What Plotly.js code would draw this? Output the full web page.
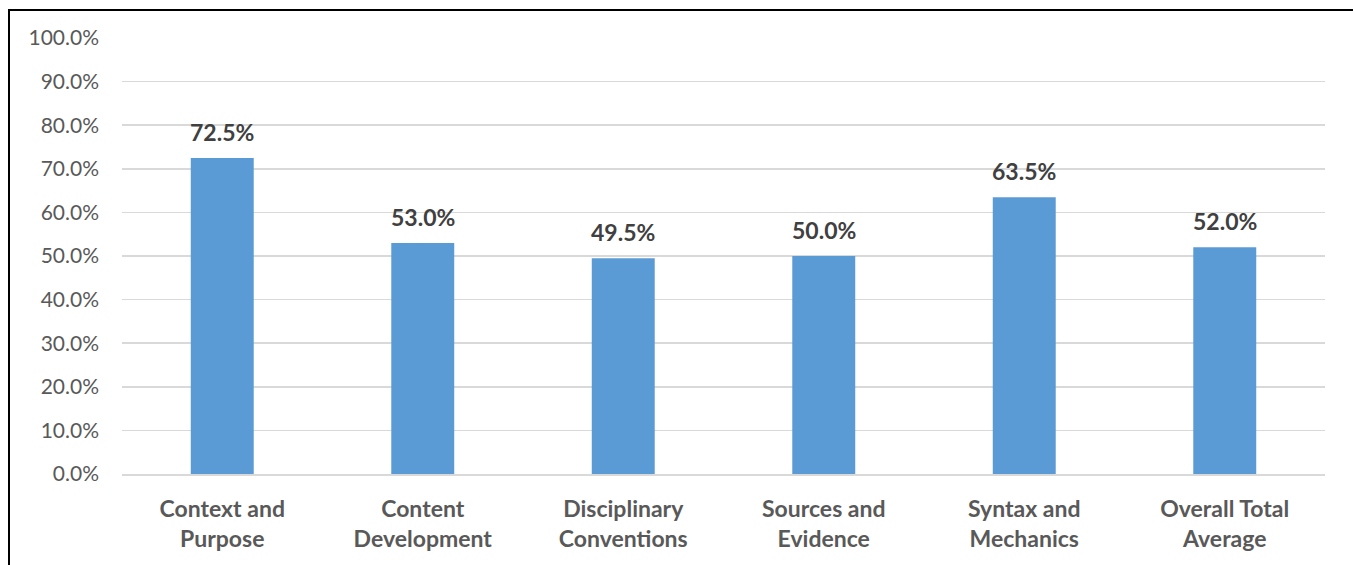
<!DOCTYPE html>
<html><head><meta charset="utf-8">
<script src="https://cdn.plot.ly/plotly-3.0.1.min.js"></script>
<style>
html,body{margin:0;padding:0;background:#fff;overflow:hidden;}
#frame{position:absolute;left:8px;top:9px;width:1400px;height:600px;border-left:2px solid #000;border-top:2px solid #000;}
#chart{position:absolute;left:0;top:0;width:1353px;height:565px;}
</style></head>
<body>
<div id="frame"></div>
<div id="chart"></div>
<script>
const categories = ["Context and<br>Purpose","Content<br>Development","Disciplinary<br>Conventions","Sources and<br>Evidence","Syntax and<br>Mechanics","Overall Total<br>Average"];
const values = [0.725, 0.53, 0.495, 0.50, 0.635, 0.52];
const tickVals = [0,0.1,0.2,0.3,0.4,0.5,0.6,0.7,0.8,0.9,1.0];

const font = "Lato, Open Sans, sans-serif";
const annotations = categories.map((c,i)=>({
  x: c, y: values[i], xref:'x', yref:'y', yanchor:'bottom', yshift:10,
  text: (values[i]*100).toFixed(1)+'%', showarrow:false,
  font:{family:font, size:23, color:'#404040', weight:'bold'}
}));

Plotly.newPlot('chart',[{
  type:'bar', x:categories, y:values,
  marker:{color:'#5b9bd5', line:{width:0}},
  hoverinfo:'none'
}],{
  width:1353, height:565,
  margin:{l:122, r:28, t:38, b:91},
  paper_bgcolor:'rgba(0,0,0,0)', plot_bgcolor:'rgba(0,0,0,0)',
  bargap:0.686,
  showlegend:false,
  xaxis:{tickfont:{family:font,size:23,color:'#595959',weight:'bold'}, showline:true, linecolor:'#d9d9d9', linewidth:2, ticks:'', ticklabelstandoff:13, fixedrange:true},
  yaxis:{range:[0,1.0], tickvals:tickVals, tickformat:'.1%', tickfont:{family:font,size:21,color:'#595959'}, showgrid:true, gridcolor:'#d9d9d9', gridwidth:1.5, zeroline:false, ticks:'', ticklabelstandoff:22, fixedrange:true},
  annotations: annotations
},{displayModeBar:false, staticPlot:true});
</script>
</body></html>
